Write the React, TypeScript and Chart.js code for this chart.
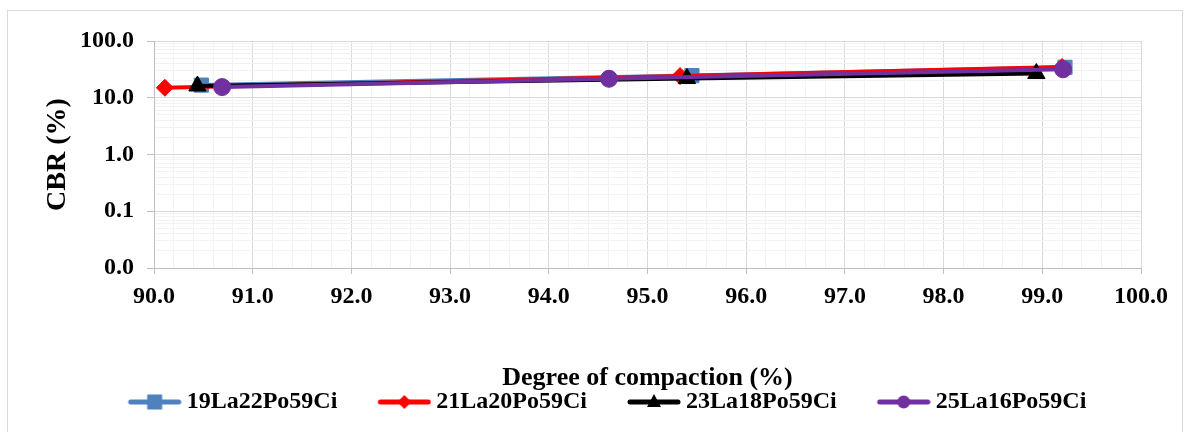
import React, { useEffect, useRef } from 'react';
import { Chart, registerables } from 'chart.js';

Chart.register(...registerables);

// ---- Data ----
const seriesNames = ['19La22Po59Ci', '21La20Po59Ci', '23La18Po59Ci', '25La16Po59Ci'];
const seriesColors = ['#4F81BD', '#FF0000', '#000000', '#7030A0'];
const seriesStyles = ['rect', 'rectRot', 'triangle', 'circle'];
const seriesRadii = [10, 8.5, 10, 8.5];

const blueX = [90.48, 95.45, 99.23];
const blueY = [16.7, 24.6, 34.4];
const redX = [90.11, 95.33, 99.2];
const redY = [15.0, 24.1, 34.8];
const blackX = [90.44, 95.4, 98.94];
const blackY = [16.1, 21.8, 26.7];
const purpleX = [90.69, 94.61, 99.21];
const purpleY = [15.4, 21.6, 31.7];

const xMin = 90;
const xMax = 100;
const yMin = 0.01;
const yMax = 100;

const xTitle = 'Degree of compaction (%)';
const yTitle = 'CBR (%)';

const seriesX = [blueX, redX, blackX, purpleX];
const seriesY = [blueY, redY, blackY, purpleY];

const FONT = "'Liberation Serif', 'Times New Roman', serif";

function buildXTicks() {
  const out: { value: number }[] = [];
  for (let i = 0; i <= 50; i++) out.push({ value: Math.round((xMin + i * 0.2) * 10) / 10 });
  return out;
}
function buildYTicks() {
  const out: { value: number }[] = [];
  for (let e = -2; e <= 2; e++) {
    const base = Math.pow(10, e);
    const lim = e === 2 ? 1 : 9;
    for (let m = 1; m <= lim; m++) out.push({ value: parseFloat((m * base).toPrecision(6)) });
  }
  return out;
}
const isInt = (v: number) => Math.abs(v - Math.round(v)) < 1e-6;
const isDecade = (v: number) => {
  const l = Math.log10(v);
  return Math.abs(l - Math.round(l)) < 1e-6;
};

function makeIcon(color: string, style: string) {
  const c = document.createElement('canvas');
  c.width = 94;
  c.height = 24;
  const g = c.getContext('2d')!;
  g.strokeStyle = color;
  g.fillStyle = color;
  g.lineWidth = 5;
  g.lineCap = 'round';
  g.beginPath();
  g.moveTo(43, 12);
  g.lineTo(91, 12);
  g.stroke();
  const cx = 67;
  const cy = 12;
  g.beginPath();
  if (style === 'rect') {
    g.rect(cx - 7.5, cy - 7.5, 15, 15);
  } else if (style === 'rectRot') {
    g.moveTo(cx - 7, cy);
    g.lineTo(cx, cy - 7);
    g.lineTo(cx + 7, cy);
    g.lineTo(cx, cy + 7);
    g.closePath();
  } else if (style === 'triangle') {
    g.moveTo(cx, cy - 8);
    g.lineTo(cx + 7, cy + 5);
    g.lineTo(cx - 7, cy + 5);
    g.closePath();
  } else {
    g.arc(cx, cy, 6.5, 0, Math.PI * 2);
  }
  g.fill();
  return c;
}

export default function App() {
  const ref = useRef<HTMLCanvasElement>(null);

  useEffect(() => {
    const canvas = ref.current;
    if (!canvas) return;
    const icons = seriesNames.map((_, i) => makeIcon(seriesColors[i], seriesStyles[i]));
    const xTicks = buildXTicks();
    const yTicks = buildYTicks();

    const chart = new Chart(canvas, {
      type: 'line',
      data: {
        datasets: seriesNames.map((name, i) => ({
          label: name,
          data: seriesX[i].map((x, j) => ({ x, y: seriesY[i][j] })),
          borderColor: seriesColors[i],
          backgroundColor: seriesColors[i],
          borderWidth: 4,
          borderCapStyle: 'round',
          borderJoinStyle: 'round',
          pointStyle: seriesStyles[i],
          pointRadius: seriesRadii[i],
          pointHoverRadius: seriesRadii[i],
          pointBorderWidth: 1,
          fill: false,
          tension: 0,
          order: 4 - i,
        })),
      } as any,
      options: {
        responsive: false,
        animation: false,
        devicePixelRatio: 1,
        events: [],
        layout: { padding: { left: 0, right: 10, top: 41, bottom: 8 } },
        scales: {
          x: {
            type: 'linear',
            min: xMin,
            max: xMax,
            afterBuildTicks: (s: any) => {
              s.ticks = xTicks.map((t) => ({ ...t }));
            },
            afterFit: (s: any) => {
              s.height = 115;
            },
            ticks: {
              autoSkip: false,
              maxRotation: 0,
              minRotation: 0,
              padding: 8,
              color: '#000',
              font: { family: FONT, size: 24, weight: 'bold' },
              callback: (v: any) => (isInt(Number(v)) ? Number(v).toFixed(1) : ''),
            },
            grid: {
              color: (ctx: any) => (ctx.tick && isInt(ctx.tick.value) ? '#d9d9d9' : '#f2f2f2'),
              tickColor: (ctx: any) => (ctx.tick && isInt(ctx.tick.value) ? '#bfbfbf' : 'rgba(0,0,0,0)'),
              tickLength: 6,
              lineWidth: 1,
            },
            border: { color: '#bfbfbf', width: 1 },
            title: {
              display: true,
              text: xTitle,
              color: '#000',
              font: { family: FONT, size: 26, weight: 'bold', lineHeight: '9px' },
              padding: { top: 0, bottom: 0 },
            },
          },
          y: {
            type: 'logarithmic',
            min: yMin,
            max: yMax,
            afterBuildTicks: (s: any) => {
              s.ticks = yTicks.map((t) => ({ ...t }));
            },
            afterFit: (s: any) => {
              s.width = 154;
            },
            ticks: {
              autoSkip: false,
              padding: 13,
              color: '#000',
              font: { family: FONT, size: 24, weight: 'bold' },
              callback: (v: any) => (isDecade(Number(v)) ? Number(v).toFixed(1) : ''),
            },
            grid: {
              color: (ctx: any) => (ctx.tick && isDecade(ctx.tick.value) ? '#d9d9d9' : '#f2f2f2'),
              tickColor: (ctx: any) => (ctx.tick && isDecade(ctx.tick.value) ? '#bfbfbf' : 'rgba(0,0,0,0)'),
              tickLength: 7,
              lineWidth: 1,
            },
            border: { color: '#bfbfbf', width: 1 },
            title: {
              display: true,
              text: yTitle,
              color: '#000',
              font: { family: FONT, size: 28, weight: 'bold' },
              padding: { top: 41, bottom: 0 },
            },
          },
          y2: {
            type: 'linear',
            position: 'right',
            display: true,
            grid: { display: false, drawTicks: false },
            ticks: { display: false },
            border: { display: false },
            afterFit: (s: any) => {
              s.width = 40;
            },
          },
        },
        plugins: {
          legend: {
            position: 'bottom',
            labels: {
              usePointStyle: true,
              pointStyleWidth: 80,
              padding: 7,
              color: '#000',
              font: { family: FONT, size: 24, weight: 'bold' },
              generateLabels: () =>
                seriesNames.map((name, i) => ({
                  text: name,
                  pointStyle: icons[i],
                  fillStyle: seriesColors[i],
                  strokeStyle: seriesColors[i],
                  lineWidth: 0,
                  hidden: false,
                  datasetIndex: i,
                  fontColor: '#000',
                })) as any,
            },
          },
          tooltip: { enabled: false },
        },
      } as any,
    });
    return () => chart.destroy();
  }, []);

  return (
    <div
      style={{
        position: 'fixed',
        left: 0,
        top: 0,
        width: 1191,
        height: 432,
        overflow: 'hidden',
        background: '#fff',
      }}
    >
      <div
        style={{
          position: 'absolute',
          left: 7,
          top: 10,
          width: 1176,
          height: 440,
          border: '1px solid #d9d9d9',
          boxSizing: 'border-box',
        }}
      />
      <canvas
        ref={ref}
        width={1191}
        height={432}
        style={{ position: 'absolute', left: 0, top: 0, width: 1191, height: 432 }}
      />
    </div>
  );
}
